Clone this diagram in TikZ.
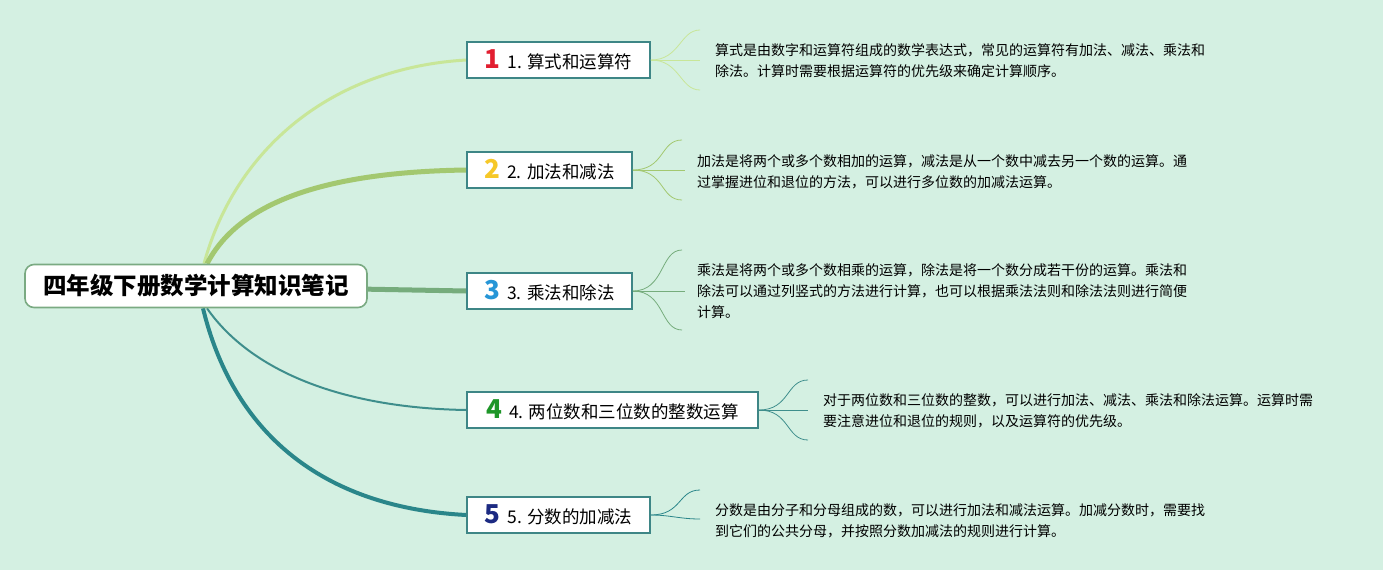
\documentclass[tikz,border=0pt]{standalone}
\usepackage{fontspec}
\setmainfont{Noto Sans CJK SC}
\definecolor{bg}{RGB}{212,240,226}
\definecolor{c1}{RGB}{200,230,152}
\definecolor{c2}{RGB}{163,200,112}
\definecolor{c3}{RGB}{118,172,124}
\definecolor{c4}{RGB}{62,142,140}
\definecolor{c5}{RGB}{42,134,138}
\definecolor{bborder}{RGB}{62,134,134}
\definecolor{rborder}{RGB}{122,170,130}
\definecolor{i1}{RGB}{226,30,48}
\definecolor{i2}{RGB}{246,200,40}
\definecolor{i3}{RGB}{38,150,215}
\definecolor{i4}{RGB}{30,150,40}
\definecolor{i5}{RGB}{28,42,130}
\newcommand{\numicon}[2]{{\color{#1}\fontsize{26}{26}\selectfont\bfseries #2}}
\pgfdeclarelayer{background}
\pgfsetlayers{background,main}
\tikzset{
  rootnode/.style={draw=rborder, line width=1.6pt, fill=white, rounded corners=9pt,
    minimum width=342pt, minimum height=43pt, font=\fontsize{23.5}{25}\selectfont\bfseries, inner sep=0pt},
  bnode/.style={draw=bborder, line width=1.5pt, fill=white, minimum height=36pt,
    font=\fontsize{17.5}{19}\selectfont, inner sep=0pt},
  leaf/.style={anchor=north west, align=left, font=\fontsize{14}{21}\selectfont, inner sep=0pt},
  fan/.style={line width=0.8pt},
}
\begin{document}
\begin{tikzpicture}[x=1pt,y=-1pt]
\useasboundingbox (0,0) rectangle (1383,570);

% root node
\node[rootnode] (root) at (196,286) {四年级下册数学计算知识笔记};

% branch nodes
\node[bnode, minimum width=183pt] (b1) at (558.5,60) {\numicon{i1}{1}\hspace{7pt}1. 算式和运算符};
\node[bnode, minimum width=165pt] (b2) at (549.5,170) {\numicon{i2}{2}\hspace{7pt}2. 加法和减法};
\node[bnode, minimum width=165pt] (b3) at (549.5,291) {\numicon{i3}{3}\hspace{7pt}3. 乘法和除法};
\node[bnode, minimum width=291pt] (b4) at (612.5,410) {\numicon{i4}{4}\hspace{7pt}4. 两位数和三位数的整数运算};
\node[bnode, minimum width=183pt] (b5) at (558.5,515) {\numicon{i5}{5}\hspace{7pt}5. 分数的加减法};

% background and root connectors (behind nodes)
\begin{pgfonlayer}{background}
\fill[bg] (0,0) rectangle (1383,570);
\draw[c1, line width=3pt] ([xshift=8pt]root.north) .. controls (235,150) and (330,68) .. (b1.west);
\draw[c2, line width=5pt] ([xshift=11pt]root.north) .. controls (240,200) and (330,172) .. (b2.west);
\draw[c3, line width=5pt] (root.center) -- (b3.west);
\draw[c4, line width=2pt] ([xshift=11pt]root.south) .. controls (250,370) and (340,408) .. (b4.west);
\draw[c5, line width=4pt] ([xshift=7pt]root.south) .. controls (235,440) and (330,508) .. (b5.west);
\end{pgfonlayer}

% leaf texts
\node[leaf] (t1) at (715,43) {算式是由数字和运算符组成的数学表达式，常见的运算符有加法、减法、乘法和\\除法。计算时需要根据运算符的优先级来确定计算顺序。};
\node[leaf] (t2) at (697,154) {加法是将两个或多个数相加的运算，减法是从一个数中减去另一个数的运算。通\\过掌握进位和退位的方法，可以进行多位数的加减法运算。};
\node[leaf] (t3) at (697,263) {乘法是将两个或多个数相乘的运算，除法是将一个数分成若干份的运算。乘法和\\除法可以通过列竖式的方法进行计算，也可以根据乘法法则和除法法则进行简便\\计算。};
\node[leaf] (t4) at (823,393) {对于两位数和三位数的整数，可以进行加法、减法、乘法和除法运算。运算时需\\要注意进位和退位的规则，以及运算符的优先级。};
\node[leaf] (t5) at (715,503) {分数是由分子和分母组成的数，可以进行加法和减法运算。加减分数时，需要找\\到它们的公共分母，并按照分数加减法的规则进行计算。};

% leaf fans
\coordinate (f1a) at (700,30); \coordinate (f1b) at (700,60); \coordinate (f1c) at (700,90);
\draw[c1, fan] (b1.east) .. controls (680,60) and (680,30) .. (f1a);
\draw[c1, fan] (b1.east) -- (f1b);
\draw[c1, fan] (b1.east) .. controls (680,60) and (680,90) .. (f1c);

\coordinate (f2a) at (682,140); \coordinate (f2b) at (685,170); \coordinate (f2c) at (682,200);
\draw[c2, fan] (b2.east) .. controls (665,170) and (660,140) .. (f2a);
\draw[c2, fan] (b2.east) -- (f2b);
\draw[c2, fan] (b2.east) .. controls (665,170) and (660,200) .. (f2c);

\coordinate (f3a) at (682,250); \coordinate (f3b) at (685,291); \coordinate (f3c) at (682,330);
\draw[c3, fan] (b3.east) .. controls (665,291) and (660,250) .. (f3a);
\draw[c3, fan] (b3.east) -- (f3b);
\draw[c3, fan] (b3.east) .. controls (665,291) and (660,330) .. (f3c);

\coordinate (f4a) at (808,380); \coordinate (f4b) at (808,410); \coordinate (f4c) at (808,440);
\draw[c4, fan] (b4.east) .. controls (790,410) and (786,380) .. (f4a);
\draw[c4, fan] (b4.east) -- (f4b);
\draw[c4, fan] (b4.east) .. controls (790,410) and (786,440) .. (f4c);

\coordinate (f5a) at (700,490); \coordinate (f5b) at (700,519);
\draw[c5, fan] (b5.east) .. controls (682,515) and (678,490) .. (f5a);
\draw[c5, fan] (b5.east) .. controls (670,515) and (680,519) .. (f5b);
\end{tikzpicture}
\end{document}
